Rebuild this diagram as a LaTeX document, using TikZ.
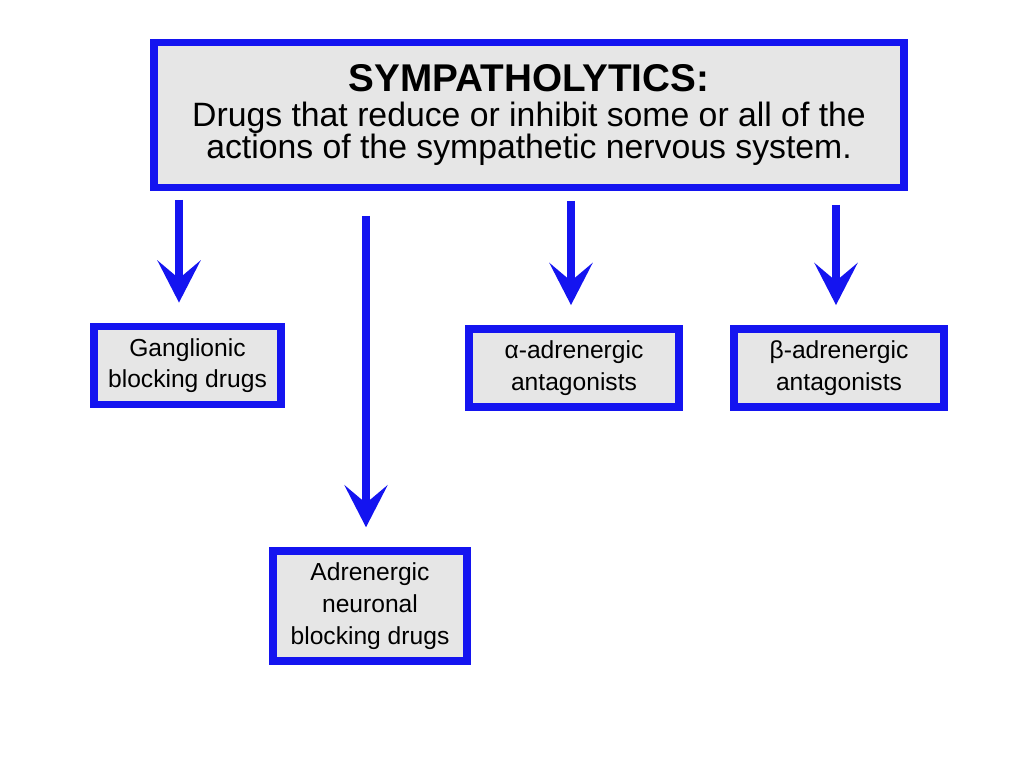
\documentclass[tikz,border=0pt]{standalone}
\usepackage{fontspec}
\setmainfont{Liberation Sans}
\usetikzlibrary{arrows.meta,positioning}
\definecolor{boxblue}{RGB}{20,20,240}
\definecolor{boxgray}{RGB}{230,230,230}
\tikzset{
	drug/.style={rectangle,draw=boxblue,fill=boxgray,line width=2.2pt,align=center,font=\fontsize{7}{9}\selectfont},
	down/.style={draw=boxblue,line width=2.2pt,-{Stealth[length=4.2mm,width=4.3mm,inset=1.8mm]},shorten >=2mm}
}
\begin{document}
\begin{tikzpicture}[x=0.01cm,y=-0.01cm]
	\useasboundingbox (0,0) rectangle (1024,768);
	\node[drug,minimum width=7.5cm,minimum height=1.45cm] (top) at (529,115) {{\fontsize{11}{13}\selectfont\bfseries SYMPATHOLYTICS:}\\[1pt]
	{\fontsize{9.6}{11.4}\selectfont Drugs that reduce or inhibit some or all of the}\\
	{\fontsize{9.6}{11.4}\selectfont actions of the sympathetic nervous system.}};
	\node[drug,minimum width=1.87cm,minimum height=0.71cm] (gang) at (187.5,365.5) {Ganglionic\\blocking drugs};
	\node[drug,minimum width=2.1cm,minimum height=0.7cm] (alpha) at (574,368) {α-adrenergic\\antagonists};
	\node[drug,minimum width=2.1cm,minimum height=0.7cm] (beta) at (839,368) {β-adrenergic\\antagonists};
	\node[drug,minimum width=1.94cm,minimum height=1.02cm] (neur) at (370,606) {Adrenergic\\neuronal\\blocking drugs};
	% arrow starts
	\coordinate (s1) at (179,200);
	\coordinate (s2) at (366,216);
	\coordinate (s3) at (571,201);
	\coordinate (s4) at (836,205);
	\draw[down] (s1) -- (s1 |- gang.north);
	\draw[down] (s2) -- (s2 |- neur.north);
	\draw[down] (s3) -- (s3 |- alpha.north);
	\draw[down] (s4) -- (s4 |- beta.north);
\end{tikzpicture}
\end{document}
